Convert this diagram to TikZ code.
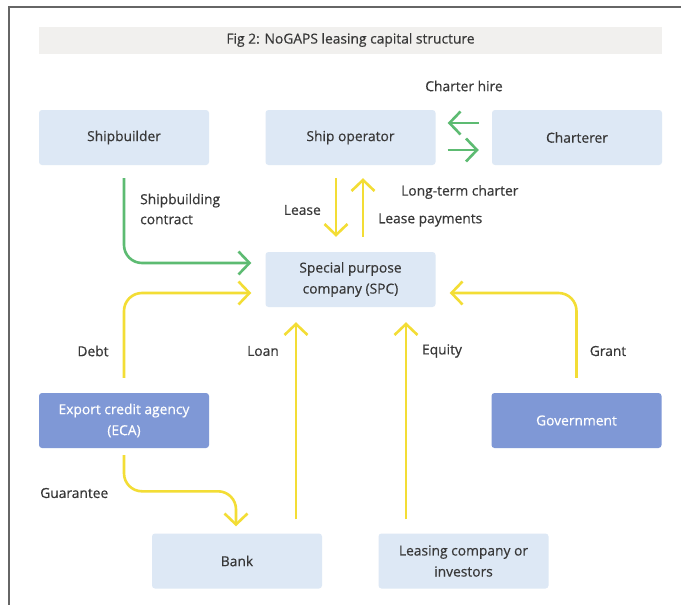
\documentclass[tikz,border=0pt]{standalone}
\usepackage{fontspec}
\setmainfont{Open Sans}[FakeBold=0.5]
\usetikzlibrary{arrows.meta,calc}
\definecolor{boxlight}{HTML}{DDE8F5}
\definecolor{boxdark}{HTML}{7F98D6}
\definecolor{flowyellow}{HTML}{F3DD35}
\definecolor{flowgreen}{HTML}{5DBB72}
\definecolor{titlebg}{HTML}{F1F0EE}
\definecolor{txt}{HTML}{383838}
\definecolor{framegray}{HTML}{666666}
\tikzset{
  lbox/.style={fill=boxlight, rounded corners=3pt, minimum width=170pt, minimum height=55pt,
    inner sep=0pt, align=center, text=txt, font=\fontsize{13.8}{21}\selectfont},
  dbox/.style={lbox, fill=boxdark, text=white},
  lbl/.style={text=txt, font=\fontsize{13.8}{20}\selectfont, inner sep=0pt},
  flow/.style={line width=2.6pt, rounded corners=18pt,
    -{Straight Barb[length=11pt,width=23pt,line width=2.6pt]}},
  yflow/.style={flow, draw=flowyellow},
  gflow/.style={flow, draw=flowgreen}
}
\begin{document}
\begin{tikzpicture}[x=1pt,y=-1pt]
  \useasboundingbox (0,0) rectangle (681,605);
  \fill[white] (0,0) rectangle (681,605);
  % frame edges
  \draw[framegray, line width=1.5pt] (9,605) -- (9,7) -- (681,7);
  % title bar
  \node[fill=titlebg, minimum width=623pt, minimum height=27pt, inner sep=0pt,
        text=txt, font=\fontsize{13.8}{15}\selectfont] (title) at (350.5,40)
        {Fig 2: NoGAPS leasing capital structure};

  % boxes
  \node[lbox] (sb)   at (124,137.5)   {Shipbuilder};
  \node[lbox] (op)   at (350.5,137.5) {Ship operator};
  \node[lbox] (ch)   at (577,137.5)   {Charterer};
  \node[lbox] (spc)  at (350.5,279.5) {Special purpose\\company (SPC)};
  \node[dbox] (eca)  at (124,420.5)   {Export credit agency\\(ECA)};
  \node[dbox] (gov)  at (576.5,420.5) {Government};
  \node[lbox] (bank) at (237,561)     {Bank};
  \node[lbox] (lco)  at (463.5,561)   {Leasing company or\\investors};

  % charter flows
  \draw[gflow] ($(ch.west)+(-13,-14.5)$) -- ($(op.east)+(12,-14.5)$);
  \draw[gflow] ($(op.east)+(12,12.5)$) -- ($(ch.west)+(-13,12.5)$);
  \node[lbl] (charterhire) at (464,86) {Charter hire};

  % lease flows
  \draw[yflow] ($(op.south)+(-14.5,13)$) -- ($(spc.north)+(-14.5,-15)$);
  \draw[yflow] ($(spc.north)+(12.5,-15)$) -- ($(op.south)+(12.5,13)$);
  \node[lbl, anchor=east] (leaselbl) at (321,210) {Lease};
  \node[lbl, anchor=west] (ltc) at (401,192) {Long-term charter};
  \node[lbl, anchor=west] (lp) at (378,220) {Lease payments};

  % shipbuilding contract
  \draw[gflow] ($(sb.south)+(0,13)$) |- ($(spc.west)+(-14,-16.5)$);
  \node[lbl, anchor=west, align=left] (sbc) at (140,209) {Shipbuilding\\contract};

  % debt and grant
  \draw[yflow] ($(eca.north)+(0,-15)$) |- ($(spc.west)+(-14,13.5)$);
  \draw[yflow] ($(gov.north)+(0,-15)$) |- ($(spc.east)+(14,13.5)$);
  \node[lbl] (debt)  at (93,351)  {Debt};
  \node[lbl] (grant) at (608,351) {Grant};

  % loan and equity
  \draw[yflow] ($(bank.north)+(59,-14)$) -- ($(spc.south)+(-54.5,15)$);
  \draw[yflow] ($(lco.north)+(-57.5,-14)$) -- ($(spc.south)+(55.5,15)$);
  \node[lbl] (loan)   at (263,351) {Loan};
  \node[lbl] (equity) at (442,351) {Equity};

  % guarantee
  \draw[yflow] ($(eca.south)+(0,7)$) |- ($(bank.north)+(-1,-42)$) -- ($(bank.north)+(-1,-7)$);
  \node[lbl, anchor=west] (guar) at (40,493) {Guarantee};
\end{tikzpicture}
\end{document}
